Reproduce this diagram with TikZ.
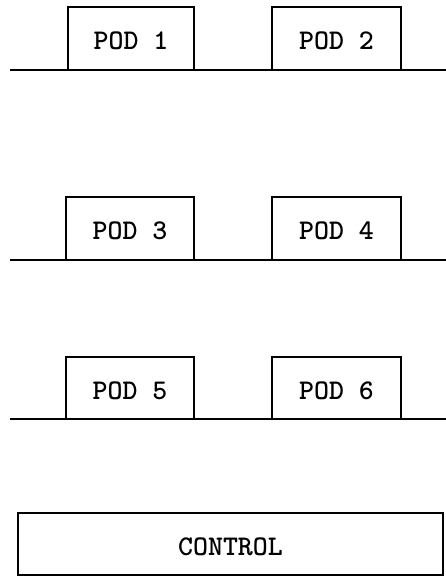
\documentclass[tikz,border=0pt]{standalone}
\begin{document}
\begin{tikzpicture}[x=1pt,y=-1pt,
  podbox/.style={draw,line width=2pt,inner sep=0pt,text height=22pt,text depth=0pt,font=\fontsize{28.5}{30}\selectfont\ttfamily\bfseries},
  bus/.style={line width=2pt}]
\useasboundingbox (0,0) rectangle (446,577);
% row 1
\node[podbox,minimum width=126pt,minimum height=63pt] (p1) at (131,38.5) {POD 1};
\node[podbox,minimum width=129pt,minimum height=63pt] (p2) at (336.5,38.5) {POD 2};
\coordinate (l1a) at (10,70); \coordinate (l1b) at (446,70);
\draw[bus] (l1a) -- (l1b);
% row 2
\node[podbox,minimum width=128pt,minimum height=63pt] (p3) at (130,228.5) {POD 3};
\node[podbox,minimum width=129pt,minimum height=63pt] (p4) at (336.5,228.5) {POD 4};
\coordinate (l2a) at (10,260); \coordinate (l2b) at (446,260);
\draw[bus] (l2a) -- (l2b);
% row 3
\node[podbox,minimum width=128pt,minimum height=62pt] (p5) at (130,388) {POD 5};
\node[podbox,minimum width=129pt,minimum height=62pt] (p6) at (336.5,388) {POD 6};
\coordinate (l3a) at (10,419); \coordinate (l3b) at (446,419);
\draw[bus] (l3a) -- (l3b);
% control
\node[podbox,minimum width=425pt,minimum height=62pt] (ctl) at (230.5,544) {CONTROL};
\end{tikzpicture}
\end{document}
